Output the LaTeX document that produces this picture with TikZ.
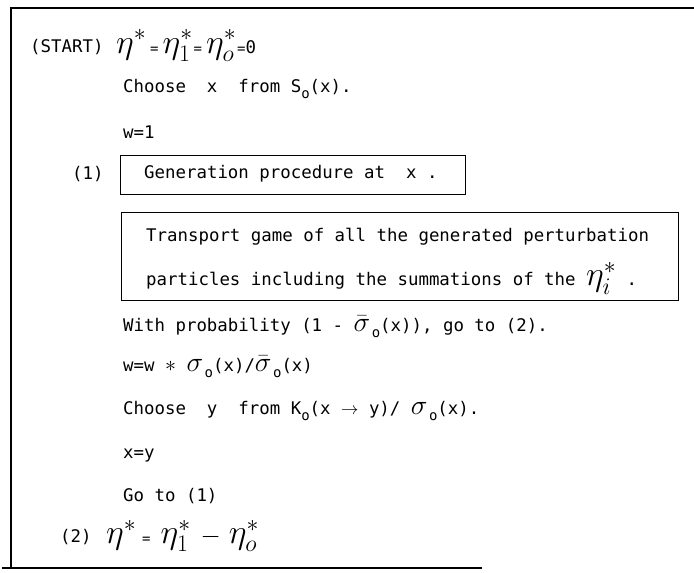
\RequirePackage{fix-cm}
\documentclass[tikz,border=0pt]{standalone}
\usepackage{fontspec}
\newfontfamily\typefont{DejaVu Sans Mono}
\newcommand\bodyfont{\typefont\fontsize{17.4}{21}\selectfont}
\newcommand\sbo{\raisebox{-6pt}{\fontsize{14}{14}\selectfont o}}
\newcommand\bigsig{\smash{\fontsize{28}{28}\selectfont$\sigma$}\hspace{1.5pt}}
\newcommand\bigsigbar{\smash{\fontsize{28}{28}\selectfont$\bar\sigma$}\hspace{1.5pt}}
\newcommand\bigeta[1]{\smash{\fontsize{34}{34}\selectfont$\eta^{*}_{#1}$}}
\newcommand\smeq{{\typefont\fontsize{14}{14}\selectfont=}}
\begin{document}
\begin{tikzpicture}[x=1pt,y=-1pt,
  txt/.style={anchor=west, inner sep=0pt, font=\bodyfont},
  frameline/.style={line width=1.4pt},
  boxed/.style={draw, line width=1.2pt, anchor=north west, inner sep=0pt}]
\useasboundingbox (0,0) rectangle (694,573);
% frame
\coordinate (tr) at (694,8);
\coordinate (tl) at (11,8);
\coordinate (bl) at (11,568);
\coordinate (bl2) at (2,568);
\coordinate (br) at (482,568);
\draw[frameline] (tr) -- (tl) -- (bl);
\draw[frameline] (bl2) -- (br);
% rows
\node[txt] (start) at (30,47) {(START)};
\node[txt] (eq1) at (116,47) {\bigeta{}\hspace{4pt}\smeq\hspace{4pt}\bigeta{1}\hspace{1pt}\smeq\hspace{4pt}\bigeta{o}\hspace{1pt}\smeq{\bodyfont 0}};
\node[txt] (choosex) at (123,89) {Choose~~x~~from S\sbo(x).};
\node[txt] (w1) at (123,132) {w=1};
\node[txt] (lab1) at (72,174) {(1)};
\node[boxed, minimum width=345pt, minimum height=39pt] (box1) at (120,155) {};
\node[txt] (gen) at (144,174) {Generation procedure at~~x~.};
\node[boxed, minimum width=557pt, minimum height=88pt] (box2) at (121,212) {};
\node[txt] (tr1) at (146,237) {Transport game of all the generated perturbation};
\node[txt] (tr2) at (146,281) {particles including the summations of the \bigeta{i}~.};
\node[txt] (prob) at (123,328) {With probability (1 - \bigsigbar\sbo(x)), go to (2).};
\node[txt] (ww) at (123,368) {w=w {\fontsize{22}{22}\selectfont$\ast$} \bigsig\sbo(x)/\bigsigbar\sbo(x)};
\node[txt] (choosey) at (123,411) {Choose~~y~~from K\sbo(x $\rightarrow$ y)/ \bigsig\sbo(x).};
\node[txt] (xy) at (123,456) {x=y};
\node[txt] (goto) at (123,496) {Go to (1)};
\node[txt] (lab2) at (60,537) {(2)};
\node[txt] (eq2) at (106,537) {\bigeta{}\hspace{6pt}\smeq\hspace{10pt}\bigeta{1}\hspace{10pt}{\fontsize{26}{26}\selectfont$-$}\hspace{8pt}\bigeta{o}};
\end{tikzpicture}
\end{document}
